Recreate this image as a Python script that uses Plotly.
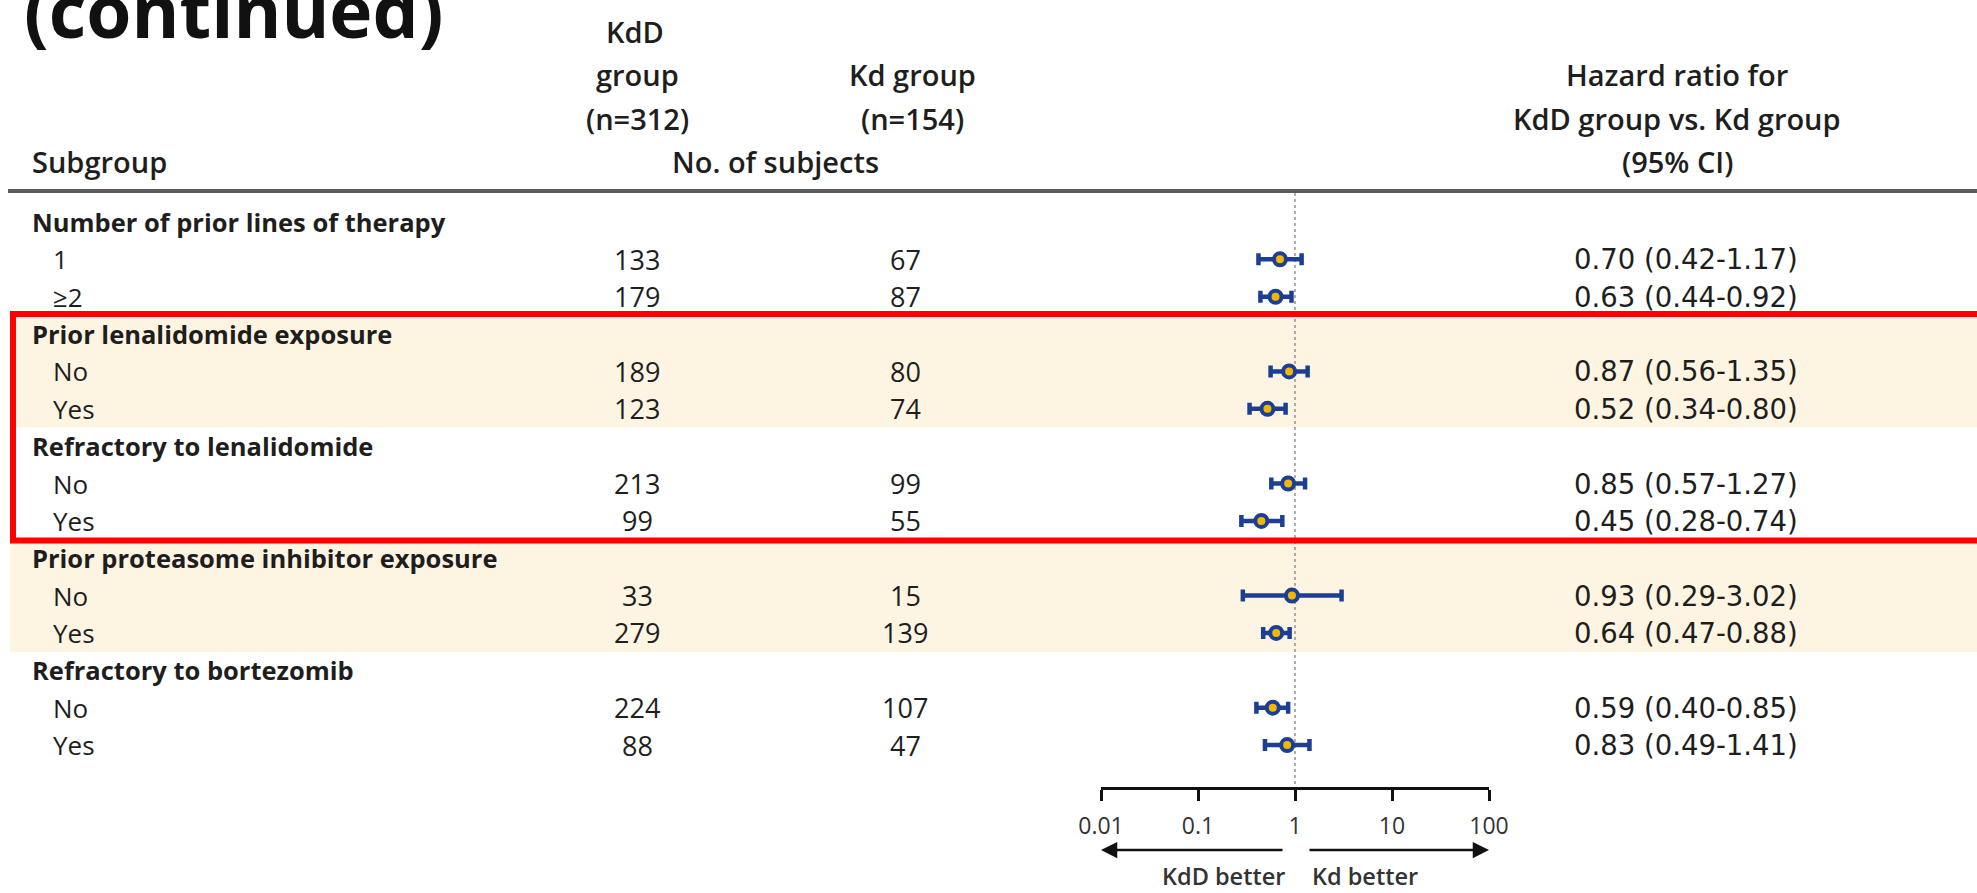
import plotly.graph_objects as go

# ---- figure size (pixels) ----
W, H = 1977, 893

# ---- data ----
group_titles = [
    "Number of prior lines of therapy",
    "Prior lenalidomide exposure",
    "Refractory to lenalidomide",
    "Prior proteasome inhibitor exposure",
    "Refractory to bortezomib",
]
group_levels = [["1", "≥2"], ["No", "Yes"], ["No", "Yes"], ["No", "Yes"], ["No", "Yes"]]
kdd_counts = [133, 179, 189, 123, 213, 99, 33, 279, 224, 88]
kd_counts = [67, 87, 80, 74, 99, 55, 15, 139, 107, 47]
hazard_ratio = [0.70, 0.63, 0.87, 0.52, 0.85, 0.45, 0.93, 0.64, 0.59, 0.83]
ci_low = [0.42, 0.44, 0.56, 0.34, 0.57, 0.28, 0.29, 0.47, 0.40, 0.49]
ci_high = [1.17, 0.92, 1.35, 0.80, 1.27, 0.74, 3.02, 0.88, 0.85, 1.41]
axis_ticks = [0.01, 0.1, 1, 10, 100]
axis_tick_labels = ["0.01", "0.1", "1", "10", "100"]
shaded_groups = [1, 3]      # groups drawn on a cream band
boxed_groups = [1, 2]       # groups enclosed by the red frame

# ---- styling ----
FONT = "Open Sans"
NUM_FONT = "DejaVu Sans"
TEXT = "#1e1e1e"
NAVY = "#1c3f95"
GOLD = "#f2b705"
CREAM = "#fdf5e2"
RED = "#ff0000"

ROW0, ROW_H = 222.0, 37.36
X_HEAD, X_ITEM = 30, 51
X_KDD, X_KD = 637, 905
X_HR = 1572
HEADER_LINE_Y = 191
AXIS_Y = 788
PLOT_X0, PLOT_X1 = 1101, 1489


def row_y(i):
    return ROW0 + i * ROW_H


def label(x, y, s, size, weight=400, anchor="left", color=TEXT, xref="x", family=FONT):
    return dict(
        x=x, y=y, xref=xref, yref="y", text=s, showarrow=False,
        xanchor=anchor, yanchor="middle",
        font=dict(family=family, size=size, color=color, weight=weight),
    )


annotations = []
shapes = []

# ---- table body ----
row = 0
group_rows = []
level_rows = []
k = 0
for g, title in enumerate(group_titles):
    start = row
    annotations.append(label(X_HEAD, row_y(row), title, 25.5, weight=700))
    row += 1
    for lev in group_levels[g]:
        y = row_y(row)
        annotations.append(label(X_ITEM, y, lev, 26))
        annotations.append(label(X_KDD, y, str(kdd_counts[k]), 27, anchor="center"))
        annotations.append(label(X_KD, y, str(kd_counts[k]), 27, anchor="center"))
        annotations.append(label(
            X_HR, y, f"{hazard_ratio[k]:.2f} ({ci_low[k]:.2f}-{ci_high[k]:.2f})", 27.5,
            family=NUM_FONT))
        level_rows.append(row)
        k += 1
        row += 1
    group_rows.append((start, row - 1))

for g in shaded_groups:
    a, b = group_rows[g]
    shapes.append(dict(type="rect", xref="x", yref="y", layer="below",
                       x0=10, x1=W + 5, y0=row_y(a) - ROW_H / 2, y1=row_y(b) + ROW_H / 2,
                       fillcolor=CREAM, line=dict(width=0)))

a = group_rows[boxed_groups[0]][0]
b = group_rows[boxed_groups[-1]][1]
shapes.append(dict(type="rect", xref="x", yref="y", layer="above",
                   x0=13, x1=W + 10, y0=row_y(a) - ROW_H / 2 - 1.5, y1=row_y(b) + ROW_H / 2 + 1,
                   fillcolor="rgba(0,0,0,0)", line=dict(color=RED, width=6)))

# header rule
shapes.append(dict(type="line", xref="x", yref="y", x0=8, x1=W, y0=HEADER_LINE_Y, y1=HEADER_LINE_Y,
                   line=dict(color="#5c5c5c", width=4)))

# ---- column headers ----
HW, HS = 600, 29
annotations += [
    label(22, 9, "(continued)", 73, weight=700, color="#111111"),
    label(635, 31, "KdD", HS, weight=HW, anchor="center"),
    label(X_KDD, 74, "group", HS, weight=HW, anchor="center"),
    label(X_KDD, 118, "(n=312)", HS, weight=HW, anchor="center"),
    label(912, 74, "Kd group", HS, weight=HW, anchor="center"),
    label(912, 118, "(n=154)", HS, weight=HW, anchor="center"),
    label(X_HEAD, 161, "Subgroup", HS, weight=HW),
    label(775, 161, "No. of subjects", HS, weight=HW, anchor="center"),
    label(1677, 74, "Hazard ratio for", HS, weight=HW, anchor="center"),
    label(1677, 118, "KdD group vs. Kd group", HS, weight=HW, anchor="center"),
    label(1677, 161, "(95% CI)", HS, weight=HW, anchor="center"),
]

# ---- direction arrows under the axis ----
arrow_y = 850
annotations.append(dict(x=-2, y=arrow_y, xref="x2", yref="y", ax=183, ay=0,
                        showarrow=True, arrowhead=2, arrowsize=1.3, arrowwidth=2.5,
                        arrowcolor="#111111", text=""))
annotations.append(dict(x=2, y=arrow_y, xref="x2", yref="y", ax=-181, ay=0,
                        showarrow=True, arrowhead=2, arrowsize=1.3, arrowwidth=2.5,
                        arrowcolor="#111111", text=""))
annotations.append(label(1223, 876, "KdD better", 23.5, weight=600, anchor="center", color="#333333"))
annotations.append(label(1365, 876, "Kd better", 23.5, weight=600, anchor="center", color="#333333"))

fig = go.Figure()

# reference line at HR = 1
fig.add_trace(go.Scatter(
    x=[1, 1], y=[HEADER_LINE_Y + 2, AXIS_Y], xaxis="x2", yaxis="y", mode="lines",
    line=dict(color="#9a9a9a", width=1.6, dash="dot"), hoverinfo="skip"))

# hazard ratios with 95% CI
fig.add_trace(go.Scatter(
    x=hazard_ratio, y=[row_y(r) for r in level_rows], xaxis="x2", yaxis="y",
    mode="markers",
    error_x=dict(type="data", symmetric=False,
                 array=[h - r for h, r in zip(ci_high, hazard_ratio)],
                 arrayminus=[r - l for r, l in zip(hazard_ratio, ci_low)],
                 color=NAVY, thickness=4.5, width=6),
    marker=dict(size=12, color=GOLD, line=dict(color=NAVY, width=4)),
))

fig.update_layout(
    width=W, height=H, autosize=False,
    margin=dict(l=0, r=0, t=0, b=0, pad=0, autoexpand=False),
    paper_bgcolor="white", plot_bgcolor="rgba(0,0,0,0)",
    showlegend=False,
    xaxis=dict(range=[0, W], visible=False, domain=[0, 1], automargin=False),
    yaxis=dict(range=[H, 0], visible=False, domain=[0, 1], automargin=False),
    xaxis2=dict(type="log", range=[-2, 2], domain=[PLOT_X0 / W, PLOT_X1 / W],
                anchor="free", position=1 - AXIS_Y / H, automargin=False,
                showline=True, linecolor="#111111", linewidth=2.5,
                ticks="outside", ticklen=11, tickwidth=2.5, tickcolor="#111111",
                ticklabelstandoff=6,
                tickvals=axis_ticks, ticktext=axis_tick_labels,
                tickfont=dict(family=FONT, size=23, color="#333333"),
                showgrid=False, zeroline=False),
    annotations=annotations,
    shapes=shapes,
)

fig.write_html("out.html")
